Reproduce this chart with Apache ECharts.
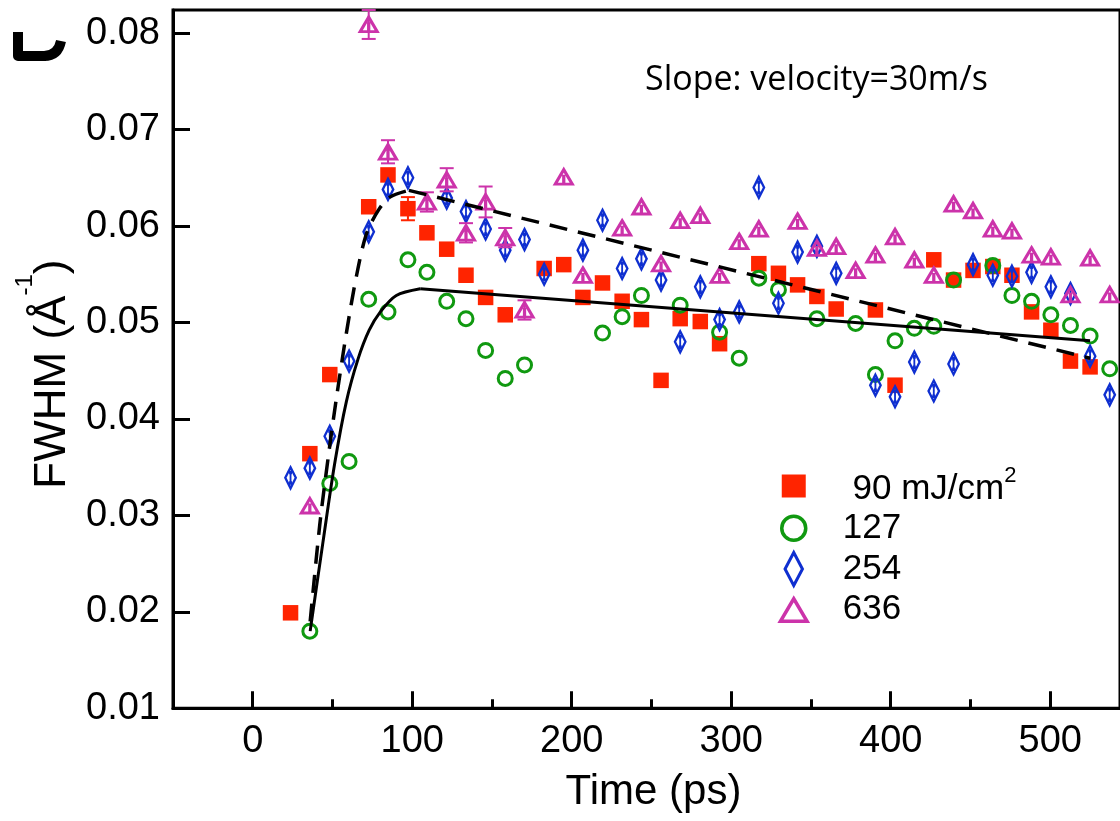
<!DOCTYPE html>
<html><head><meta charset="utf-8">
<script src="https://cdn.jsdelivr.net/npm/echarts@6/dist/echarts.min.js"></script>
<style>html,body{margin:0;padding:0;background:#fff}#c{width:1120px;height:821px}</style>
</head><body><div id="c"></div>
<script>
// ---- tick labels ----
const X_MAJOR = [0, 100, 200, 300, 400, 500];
const X_MINOR = [50, 150, 250, 350, 450];
const Y_TICKS = [0.01, 0.02, 0.03, 0.04, 0.05, 0.06, 0.07, 0.08];

// ---- series names ----
const NAMES = ['90 mJ/cm2', '127', '254', '636'];

// ---- 90 mJ/cm2 (red squares) ----
const T90 = [23.7,35.8,48.3,72.7,84.8,97.3,109.2,121.6,133.7,146,158.3,182.7,195,207,219.3,231.6,243.7,256,268,280.6,292.7,317.3,329.6,341.6,353.7,365.8,390.4,402.7,427,439.4,451.6,464,476,488.3,500.4,512.7,525];
const V90 = [0.0199,0.0364,0.0446,0.0620,0.0653,0.0618,0.0593,0.0576,0.0549,0.0526,0.0508,0.0556,0.0560,0.0526,0.0541,0.0522,0.0503,0.0440,0.0504,0.0501,0.0478,0.0561,0.0551,0.0539,0.0527,0.0514,0.0513,0.0435,0.0565,0.0544,0.0554,0.0558,0.0549,0.0511,0.0492,0.0460,0.0454];
const E90 = [0,0,0,0,0,0.0012,0,0,0,0,0,0,0,0,0,0,0,0,0,0,0,0,0,0,0,0,0,0,0,0,0,0,0,0,0,0,0];

// ---- 127 (green circles) ----
const T127 = [35.8,48.3,60.4,72.7,84.8,97.3,109.2,121.6,133.7,146,158.3,170.4,219.3,231.6,243.7,268,292.7,305,317.3,329.6,353.7,378,390.4,402.7,414.8,427,439.4,464,476,488.3,500.4,512.7,525,537.3];
const V127 = [0.0180,0.0333,0.0356,0.0524,0.0511,0.0565,0.0552,0.0522,0.0504,0.0471,0.0442,0.0456,0.0489,0.0506,0.0528,0.0518,0.0490,0.0463,0.0546,0.0534,0.0504,0.0499,0.0446,0.0481,0.0494,0.0496,0.0544,0.0559,0.0528,0.0522,0.0508,0.0497,0.0486,0.0452];

// ---- 254 (blue diamonds) ----
const T254 = [23.7,35.8,48.3,60.4,72.7,84.8,97.3,121.6,133.7,146,158.3,170.4,182.7,207,219.3,231.6,243.7,256,268,280.6,292.7,305,317.3,329.6,341.6,353.7,365.8,390.4,402.7,414.8,427,439.4,451.6,464,476,488.3,500.4,512.7,525,537.3];
const V254 = [0.0339,0.0349,0.0382,0.0460,0.0594,0.0638,0.0650,0.0629,0.0615,0.0597,0.0575,0.0586,0.0550,0.0575,0.0606,0.0556,0.0566,0.0544,0.0480,0.0537,0.0503,0.0511,0.0640,0.0520,0.0573,0.0579,0.0551,0.0435,0.0423,0.0459,0.0429,0.0457,0.0560,0.0549,0.0548,0.0552,0.0537,0.0530,0.0465,0.0425];

// ---- 636 (magenta triangles) ----
const T636 = [35.8,72.7,84.8,109.2,121.6,133.7,146,158.3,170.4,195,207,231.6,243.7,256,268,280.6,292.7,305,317.3,341.6,353.7,365.8,378,390.4,402.7,414.8,427,439.4,451.6,464,476,488.3,500.4,512.7,525,537.3];
const V636 = [0.0310,0.0809,0.0677,0.0625,0.0648,0.0593,0.0625,0.0588,0.0513,0.0651,0.0549,0.0598,0.0620,0.0561,0.0606,0.0611,0.0549,0.0584,0.0597,0.0605,0.0577,0.0579,0.0554,0.0570,0.0589,0.0565,0.0549,0.0623,0.0616,0.0597,0.0595,0.0570,0.0568,0.0529,0.0567,0.0529];
const E636 = [0,0.0015,0.0012,0.0010,0.0012,0.0010,0.0016,0.0010,0.0010,0,0,0,0,0,0,0,0,0,0,0,0,0,0,0,0,0,0,0,0,0,0,0,0,0,0,0];

// ---- fit curves; last point = end of the straight decay ----
const FIT_SOLID_T = [36, 44, 51.4, 58.7, 66, 73, 80, 90, 105, 525];
const FIT_SOLID_V = [0.0180, 0.0272, 0.0354, 0.0418, 0.0462, 0.0492, 0.0511, 0.0528, 0.0535, 0.0481];
const FIT_DASH_T = [36, 42, 47.3, 52.5, 58.7, 65, 71.3, 79, 86, 97.9, 525];
const FIT_DASH_V = [0.0190, 0.0290, 0.0360, 0.0422, 0.0489, 0.0548, 0.0592, 0.0617, 0.0630, 0.0637, 0.0463];

const ANNOT = 'Slope: velocity=30m/s';

// ---- styles ----
const C_RED = '#ff2400', C_GREEN = '#109910', C_BLUE = '#0f2fd0', C_MAG = '#cc33aa';
const FONT = 'Liberation Sans, Arial, Helvetica, sans-serif';
const zip = (a, b) => a.map((t, i) => [t, b[i]]);
const errData = (t, v, e) => t.map((x, i) => [x, v[i] - e[i], v[i] + e[i], e[i]]).filter(d => d[3] > 0);

const SYM_DIAMOND = 'path://M5,0L10,10L5,20L0,10Z M5,5L5,15 M3.6,5L6.4,5 M3.6,15L6.4,15';
const SYM_TRI = 'path://M10,0L20,17L0,17Z M10,6L10,17';
const ICON_SQ = 'path://M0,0M30,36M3,6.5L27,6.5L27,29.5L3,29.5Z';
const ICON_CI = 'path://M0,0M30,36M3,18A12,12,0,1,1,27,18A12,12,0,1,1,3,18Z';
const ICON_DI = 'path://M0,0M30,36M15,1.5L23.7,18L15,34.5L6.3,18Z';
const ICON_TR = 'path://M0,0M30,36M15,7L28.3,29.5L1.7,29.5Z';

function errRender(color) {
  return function (params, api) {
    const x = api.value(0);
    const p1 = api.coord([x, api.value(2)]);
    const p2 = api.coord([x, api.value(1)]);
    const w = 7;
    const st = { stroke: color, lineWidth: 2 };
    return { type: 'group', children: [
      { type: 'line', shape: { x1: p1[0], y1: p1[1], x2: p2[0], y2: p2[1] }, style: st },
      { type: 'line', shape: { x1: p1[0] - w, y1: p1[1], x2: p1[0] + w, y2: p1[1] }, style: st },
      { type: 'line', shape: { x1: p2[0] - w, y1: p2[1], x2: p2[0] + w, y2: p2[1] }, style: st }
    ]};
  };
}

const GRID_TOP = 10, GRID_BOTTOM = 112.7;
const GRID_H = 821 - GRID_TOP - GRID_BOTTOM;
const nS = FIT_SOLID_T.length, nD = FIT_DASH_T.length;
const solidAll = zip(FIT_SOLID_T, FIT_SOLID_V), dashAll = zip(FIT_DASH_T, FIT_DASH_V);

const chart = echarts.init(document.getElementById('c'), null, { renderer: 'canvas' });
chart.setOption({
  animation: false,
  backgroundColor: '#fff',
  title: {
    text: ANNOT, left: 645, top: 63, padding: 0,
    textStyle: { fontFamily: 'Open Sans, Noto Sans, sans-serif', fontSize: 34, fontWeight: 'normal', color: '#000' }
  },
  grid: {
    left: 173, right: -3, top: GRID_TOP, bottom: GRID_BOTTOM,
    show: true, borderColor: '#000', borderWidth: 3, backgroundColor: 'transparent', containLabel: false
  },
  legend: {
    orient: 'vertical', left: 777, top: 465, padding: 0,
    itemWidth: 30, itemHeight: 36, itemGap: 1.5,
    selectedMode: false,
    data: [
      { name: NAMES[0], icon: ICON_SQ, itemStyle: { color: C_RED, borderWidth: 0, opacity: 1 } },
      { name: NAMES[1], icon: ICON_CI, itemStyle: { color: 'rgba(0,0,0,0)', borderColor: C_GREEN, borderWidth: 3.5, opacity: 1 } },
      { name: NAMES[2], icon: ICON_DI, itemStyle: { color: 'rgba(0,0,0,0)', borderColor: C_BLUE, borderWidth: 3, opacity: 1 } },
      { name: NAMES[3], icon: ICON_TR, itemStyle: { color: 'rgba(0,0,0,0)', borderColor: C_MAG, borderWidth: 3.5, opacity: 1 } }
    ],
    formatter: function (name) {
      if (name === NAMES[0]) return '{a| 90 mJ/cm}{s|2}';
      return '{b|' + name + '}';
    },
    textStyle: {
      fontFamily: FONT, fontSize: 35, color: '#000', padding: [0, 0, 0, 29],
      rich: {
        a: { fontFamily: FONT, fontSize: 35, color: '#000', verticalAlign: 'bottom' },
        b: { fontFamily: FONT, fontSize: 35, color: '#000' },
        s: { fontFamily: FONT, fontSize: 22, color: '#000', lineHeight: 42, verticalAlign: 'top' }
      }
    }
  },
  graphic: [
    { type: 'polyline', shape: { points: [[18, 32], [18, 56], [46, 56]] },
      style: { stroke: '#000', lineWidth: 10, fill: null, lineJoin: 'round' } },
    { type: 'bezierCurve', shape: { x1: 44, y1: 56, cpx1: 58, cpy1: 56, x2: 61, y2: 41 },
      style: { stroke: '#000', lineWidth: 10, fill: null } }
  ],
  xAxis: [
    {
      type: 'value', min: -50, max: 543.75, position: 'bottom',
      axisLine: { show: true, onZero: false, lineStyle: { color: '#000', width: 3 } },
      axisTick: { show: true, inside: true, length: 17, customValues: X_MAJOR, lineStyle: { color: '#000', width: 3 } },
      axisLabel: { show: true, customValues: X_MAJOR, margin: 14, fontFamily: FONT, fontSize: 38, color: '#000' },
      splitLine: { show: false },
      name: 'Time (ps)', nameLocation: 'middle', nameGap: 63,
      nameTextStyle: { fontFamily: FONT, fontSize: 42, color: '#000', padding: [0, 0, 0, 14] }
    },
    {
      type: 'value', min: -50, max: 543.75, position: 'top', offset: -GRID_H,
      axisLine: { show: false },
      axisTick: { show: true, inside: false, length: 9, customValues: X_MINOR, lineStyle: { color: '#000', width: 3 } },
      axisLabel: { show: false },
      splitLine: { show: false }
    }
  ],
  yAxis: {
    type: 'value', min: 0.01, max: 0.0824,
    axisLine: { show: true, onZero: false, lineStyle: { color: '#000', width: 3 } },
    axisTick: { show: true, inside: true, length: 17, customValues: Y_TICKS, lineStyle: { color: '#000', width: 3 } },
    axisLabel: { show: true, customValues: Y_TICKS, margin: 13, fontFamily: FONT, fontSize: 38, color: '#000',
      formatter: v => v.toFixed(2) },
    splitLine: { show: false },
    name: '{a|FWHM (Å}{s|-1}{a|)}', nameLocation: 'middle', nameRotate: 90, nameGap: 92,
    nameTextStyle: {
      padding: [0, 30, 0, 0],
      rich: {
        a: { fontFamily: FONT, fontSize: 44, color: '#000', verticalAlign: 'bottom' },
        s: { fontFamily: FONT, fontSize: 24, color: '#000', lineHeight: 62, verticalAlign: 'top' }
      }
    }
  },
  series: [
    { name: NAMES[0], type: 'scatter', data: zip(T90, V90), symbol: 'rect', symbolSize: 15.5,
      itemStyle: { color: C_RED, opacity: 1 }, z: 2, silent: true },
    { type: 'custom', data: errData(T90, V90, E90), renderItem: errRender(C_RED), z: 2, silent: true,
      encode: { x: 0, y: [1, 2] } },
    { name: NAMES[1], type: 'scatter', data: zip(T127, V127), symbol: 'circle', symbolSize: 14,
      itemStyle: { color: 'rgba(0,0,0,0)', borderColor: C_GREEN, borderWidth: 3, opacity: 1 }, z: 3, silent: true },
    { name: NAMES[2], type: 'scatter', data: zip(T254, V254), symbol: SYM_DIAMOND, symbolSize: [10.5, 21],
      itemStyle: { color: 'rgba(0,0,0,0)', borderColor: C_BLUE, borderWidth: 2.6, opacity: 1 }, z: 4, silent: true },
    { name: NAMES[3], type: 'scatter', data: zip(T636, V636), symbol: SYM_TRI, symbolSize: [17, 14.5],
      itemStyle: { color: 'rgba(0,0,0,0)', borderColor: C_MAG, borderWidth: 3, opacity: 1 }, z: 5, silent: true },
    { type: 'custom', data: errData(T636, V636, E636), renderItem: errRender(C_MAG), z: 5, silent: true,
      encode: { x: 0, y: [1, 2] } },
    // solid fit: curved rise + straight decay
    { type: 'line', data: solidAll.slice(0, nS - 1), symbol: 'none', smooth: 0.3,
      lineStyle: { color: '#000', width: 3 }, z: 6, silent: true },
    { type: 'line', data: solidAll.slice(nS - 2), symbol: 'none', smooth: false,
      lineStyle: { color: '#000', width: 3 }, z: 6, silent: true },
    // dashed fit: curved rise + straight decay
    { type: 'line', data: dashAll.slice(0, nD - 1), symbol: 'none', smooth: 0.3,
      lineStyle: { color: '#000', width: 3.5, type: [18, 11] }, z: 6, silent: true },
    { type: 'line', data: dashAll.slice(nD - 2), symbol: 'none', smooth: false,
      lineStyle: { color: '#000', width: 3.5, type: [18, 11] }, z: 6, silent: true }
  ]
});
</script>
</body></html>
